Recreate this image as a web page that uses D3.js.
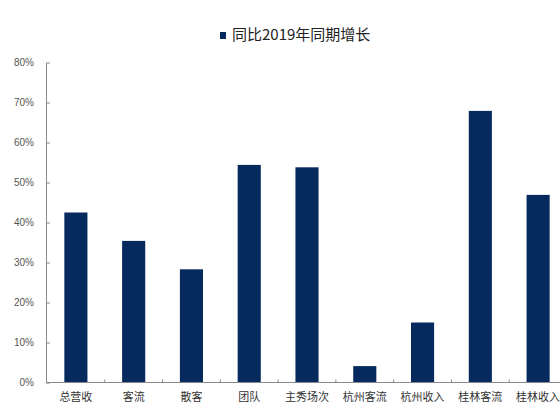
<!DOCTYPE html>
<html>
<head>
<meta charset="utf-8">
<script src="https://cdn.jsdelivr.net/npm/d3@7"></script>
<style>
  html, body { margin: 0; padding: 0; background: #fff; }
  svg { display: block; }
</style>
</head>
<body>
<svg id="chart" width="560" height="410"></svg>
<script>
// Categories and year-over-year growth versus the same period of 2019
const categories = ["总营收", "客流", "散客", "团队", "主秀场次", "杭州客流", "杭州收入", "桂林客流", "桂林收入"];
const growth = [0.425, 0.354, 0.283, 0.544, 0.538, 0.041, 0.150, 0.679, 0.469];
const yTicks = [0, 0.1, 0.2, 0.3, 0.4, 0.5, 0.6, 0.7, 0.8];
const seriesName = "同比2019年同期增长";

const svg = d3.select("#chart");
const barColor = "#062a5e";
const axisColor = "#8a8a8a";

const x = d3.scaleBand()
  .domain(categories)
  .range([47, 567])
  .paddingInner(0.6)
  .paddingOuter(0.3);

const y = d3.scaleLinear()
  .domain([0, 0.8])
  .range([382.5, 62.5]);

// Bars
svg.append("g")
  .selectAll("rect")
  .data(growth)
  .join("rect")
  .attr("x", (d, i) => x(categories[i]))
  .attr("y", d => y(d))
  .attr("width", x.bandwidth())
  .attr("height", d => y(0) - y(d))
  .attr("fill", barColor);

// Y axis with inward ticks
const yAxis = svg.append("g")
  .attr("transform", "translate(46,0)")
  .call(d3.axisLeft(y).tickValues(yTicks).tickFormat(d3.format(".0%")).tickSizeInner(-4).tickSizeOuter(0).tickPadding(12));
yAxis.select(".domain").attr("stroke", axisColor);
yAxis.selectAll(".tick line").attr("stroke", axisColor);
yAxis.selectAll(".tick text")
  .attr("fill", "#555")
  .style("font-family", "Arial, 'Liberation Sans', sans-serif")
  .style("font-size", "10px");

// X axis baseline with small tick marks between categories
const xAxis = svg.append("g").attr("transform", `translate(0,${y(0)})`);
xAxis.append("line")
  .attr("x1", 46).attr("x2", 560)
  .attr("stroke", axisColor);
const boundaries = categories.slice(1).map(c => x(c) - x.step() * x.paddingInner() / 2);
xAxis.selectAll("line.sep")
  .data(boundaries)
  .join("line")
  .attr("class", "sep")
  .attr("x1", d => d).attr("x2", d => d)
  .attr("y1", 0).attr("y2", -3)
  .attr("stroke", axisColor);
xAxis.selectAll("text")
  .data(categories)
  .join("text")
  .attr("x", d => x(d) + x.bandwidth() / 2)
  .attr("y", 18)
  .attr("text-anchor", "middle")
  .attr("fill", "#333")
  .style("font-family", "'Noto Sans CJK SC', sans-serif")
  .style("font-size", "11px")
  .text(d => d);

// Legend
const legend = svg.append("g").attr("transform", "translate(220,32)");
legend.append("rect")
  .attr("width", 6).attr("height", 7)
  .attr("fill", barColor);
legend.append("text")
  .attr("x", 12)
  .attr("y", 4)
  .attr("dominant-baseline", "middle")
  .attr("fill", "#222")
  .style("font-family", "'Noto Sans CJK SC', sans-serif")
  .style("font-size", "15px")
  .text(seriesName);
</script>
</body>
</html>
